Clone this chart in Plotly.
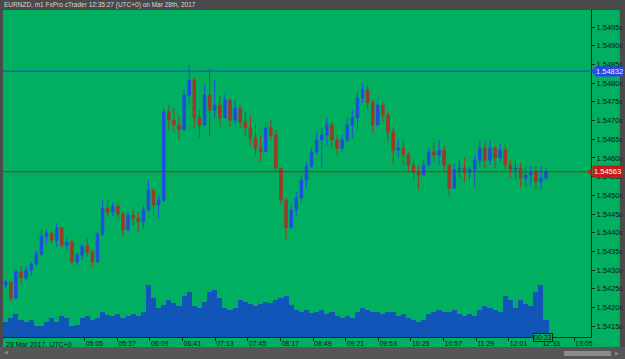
import pandas as pd
import plotly.graph_objects as go

# ---------------- data (5-minute aggregation) ----------------
bar_times = pd.date_range("2017-03-28 03:45", periods=107, freq="5min")

opens = [1.54260, 1.54268, 1.54225, 1.54295, 1.54279, 1.54300, 1.54316, 1.54343, 1.54391, 1.54399,
         1.54380, 1.54413, 1.54367, 1.54375, 1.54322, 1.54340, 1.54364, 1.54348, 1.54322, 1.54396,
         1.54466, 1.54455, 1.54471, 1.54450, 1.54407, 1.54447, 1.54439, 1.54429, 1.54461, 1.54514,
         1.54474, 1.54487, 1.54723, 1.54701, 1.54688, 1.54675, 1.54768, 1.54808, 1.54707, 1.54688,
         1.54768, 1.54728, 1.54741, 1.54707, 1.54755, 1.54701, 1.54733, 1.54696, 1.54680, 1.54653,
         1.54626, 1.54616, 1.54680, 1.54661, 1.54573, 1.54487, 1.54413, 1.54461, 1.54493, 1.54541,
         1.54578, 1.54616, 1.54648, 1.54661, 1.54688, 1.54648, 1.54626, 1.54648, 1.54688, 1.54707,
         1.54760, 1.54782, 1.54749, 1.54688, 1.54741, 1.54715, 1.54669, 1.54621, 1.54626, 1.54608,
         1.54581, 1.54562, 1.54554, 1.54581, 1.54616, 1.54608, 1.54621, 1.54581, 1.54519, 1.54568,
         1.54573, 1.54562, 1.54568, 1.54594, 1.54626, 1.54594, 1.54626, 1.54600, 1.54621, 1.54581,
         1.54568, 1.54573, 1.54546, 1.54554, 1.54562, 1.54536, 1.54546]
highs = [1.54273, 1.54268, 1.54300, 1.54311, 1.54311, 1.54322, 1.54354, 1.54407, 1.54410, 1.54402,
         1.54426, 1.54415, 1.54386, 1.54380, 1.54348, 1.54370, 1.54386, 1.54354, 1.54402, 1.54487,
         1.54487, 1.54482, 1.54479, 1.54455, 1.54458, 1.54463, 1.54458, 1.54474, 1.54541, 1.54514,
         1.54501, 1.54733, 1.54741, 1.54733, 1.54715, 1.54782, 1.54848, 1.54814, 1.54728, 1.54795,
         1.54840, 1.54808, 1.54768, 1.54774, 1.54755, 1.54755, 1.54741, 1.54723, 1.54715, 1.54688,
         1.54661, 1.54696, 1.54701, 1.54675, 1.54573, 1.54493, 1.54474, 1.54509, 1.54554, 1.54589,
         1.54626, 1.54669, 1.54680, 1.54709, 1.54696, 1.54661, 1.54661, 1.54707, 1.54728, 1.54776,
         1.54798, 1.54792, 1.54755, 1.54760, 1.54749, 1.54723, 1.54680, 1.54648, 1.54648, 1.54616,
         1.54594, 1.54581, 1.54594, 1.54626, 1.54642, 1.54648, 1.54634, 1.54581, 1.54586, 1.54594,
         1.54600, 1.54578, 1.54608, 1.54648, 1.54642, 1.54648, 1.54632, 1.54637, 1.54637, 1.54594,
         1.54594, 1.54586, 1.54581, 1.54581, 1.54578, 1.54578, 1.54573]
lows = [1.54252, 1.54215, 1.54225, 1.54260, 1.54273, 1.54284, 1.54311, 1.54338, 1.54372, 1.54372,
        1.54362, 1.54356, 1.54354, 1.54314, 1.54314, 1.54327, 1.54335, 1.54308, 1.54322, 1.54391,
        1.54445, 1.54445, 1.54439, 1.54388, 1.54407, 1.54418, 1.54402, 1.54413, 1.54455, 1.54447,
        1.54439, 1.54482, 1.54675, 1.54669, 1.54648, 1.54675, 1.54741, 1.54680, 1.54653, 1.54688,
        1.54656, 1.54707, 1.54683, 1.54707, 1.54683, 1.54688, 1.54680, 1.54659, 1.54632, 1.54608,
        1.54589, 1.54616, 1.54648, 1.54562, 1.54474, 1.54380, 1.54413, 1.54445, 1.54482, 1.54519,
        1.54573, 1.54608, 1.54573, 1.54634, 1.54626, 1.54608, 1.54616, 1.54642, 1.54653, 1.54675,
        1.54747, 1.54728, 1.54667, 1.54688, 1.54696, 1.54642, 1.54581, 1.54600, 1.54581, 1.54562,
        1.54541, 1.54514, 1.54554, 1.54578, 1.54589, 1.54581, 1.54562, 1.54498, 1.54519, 1.54546,
        1.54536, 1.54541, 1.54525, 1.54578, 1.54573, 1.54581, 1.54573, 1.54589, 1.54568, 1.54546,
        1.54541, 1.54522, 1.54522, 1.54528, 1.54514, 1.54514, 1.54541]
closes = [1.54268, 1.54225, 1.54295, 1.54279, 1.54300, 1.54316, 1.54343, 1.54391, 1.54399, 1.54380,
          1.54413, 1.54367, 1.54375, 1.54322, 1.54340, 1.54364, 1.54348, 1.54322, 1.54396, 1.54466,
          1.54455, 1.54471, 1.54450, 1.54407, 1.54447, 1.54439, 1.54429, 1.54461, 1.54514, 1.54474,
          1.54487, 1.54723, 1.54701, 1.54688, 1.54675, 1.54768, 1.54808, 1.54707, 1.54688, 1.54768,
          1.54728, 1.54741, 1.54707, 1.54755, 1.54701, 1.54733, 1.54696, 1.54680, 1.54653, 1.54626,
          1.54616, 1.54680, 1.54661, 1.54573, 1.54487, 1.54413, 1.54461, 1.54493, 1.54541, 1.54578,
          1.54616, 1.54648, 1.54661, 1.54688, 1.54648, 1.54626, 1.54648, 1.54688, 1.54707, 1.54760,
          1.54782, 1.54749, 1.54688, 1.54741, 1.54715, 1.54669, 1.54621, 1.54626, 1.54608, 1.54581,
          1.54562, 1.54554, 1.54581, 1.54616, 1.54608, 1.54621, 1.54581, 1.54519, 1.54568, 1.54573,
          1.54562, 1.54568, 1.54594, 1.54626, 1.54594, 1.54626, 1.54600, 1.54621, 1.54581, 1.54568,
          1.54573, 1.54546, 1.54554, 1.54562, 1.54536, 1.54546, 1.54563]
tick_volume = [15, 19, 23, 17, 15, 17, 11, 11, 15, 19,
               15, 21, 19, 11, 12, 19, 21, 17, 19, 25,
               22, 21, 23, 19, 21, 23, 21, 25, 52, 39,
               29, 32, 37, 34, 31, 41, 45, 31, 29, 35,
               45, 47, 39, 29, 27, 29, 37, 35, 33, 31,
               33, 35, 34, 37, 39, 41, 32, 27, 25, 27,
               24, 25, 27, 23, 25, 21, 19, 21, 19, 25,
               29, 27, 25, 25, 23, 25, 25, 21, 23, 19,
               17, 15, 17, 23, 25, 27, 25, 25, 27, 23,
               21, 23, 21, 27, 31, 29, 27, 25, 41, 37,
               29, 37, 33, 31, 45, 52, 17]

blue_level = 1.54832
last_price = closes[-1]

price_ticks = [1.5415, 1.5420, 1.5425, 1.5430, 1.5435, 1.5440, 1.5445, 1.5450, 1.5455,
               1.5460, 1.5465, 1.5470, 1.5475, 1.5480, 1.5485, 1.5490, 1.5495]
time_tick_labels = ["05:05", "05:37", "06:09", "06:41", "07:13", "07:45", "08:17", "08:49",
                    "09:21", "09:53", "10:25", "10:57", "11:29", "12:01", "12:33", "13:05"]
title_text = "EURNZD, m1 FxPro cTrader 12:35:27 (UTC+0) on Mar 28th, 2017"
date_text = "28 Mar 2017, UTC+0"
countdown_text = "00:33"

# ---------------- styling ----------------
GREEN = "#00b060"
DARK = "#0c2a18"
UP = "#1f4fe0"
DOWN = "#9c3b28"
VOL = "#1155b8"
GRAY = "#4a4a4a"
FONT = "Liberation Sans"

x_mid = bar_times + pd.Timedelta(minutes=2.5)
tick_vals = [pd.Timestamp("2017-03-28 " + t) for t in time_tick_labels]

fig = go.Figure()
fig.add_trace(go.Bar(x=x_mid, y=tick_volume, yaxis="y2", marker=dict(color=VOL, line=dict(width=0)),
                     width=5 * 60 * 1000, showlegend=False, hoverinfo="skip"))
fig.add_trace(go.Candlestick(x=x_mid, open=opens, high=highs, low=lows, close=closes,
                             increasing=dict(line=dict(color=UP, width=1), fillcolor=UP),
                             decreasing=dict(line=dict(color=DOWN, width=1), fillcolor=DOWN),
                             whiskerwidth=0, showlegend=False, hoverinfo="skip"))

fig.update_layout(
    width=625, height=359,
    margin=dict(l=3, r=32, t=10, b=22),
    paper_bgcolor=GRAY, plot_bgcolor=GREEN,
    bargap=0,
    font=dict(family=FONT, color="#111111", size=7),
    xaxis=dict(type="date", range=["2017-03-28 03:44:50", "2017-03-28 13:21:36"],
               tickvals=tick_vals, ticktext=time_tick_labels, ticks="outside", ticklen=3,
               tickcolor=DARK, showline=True, linecolor=DARK, linewidth=1, showgrid=False,
               zeroline=False, rangeslider=dict(visible=False), ticklabelposition="outside right",
               tickfont=dict(size=7, color="#111111", family=FONT), fixedrange=True),
    yaxis=dict(side="right", range=[1.541211, 1.549955], tickvals=price_ticks,
               ticktext=[f"{v:.4f}<span style='font-size:5px'>0</span>" for v in price_ticks],
               ticks="outside", ticklen=3, tickcolor=DARK, showline=True, linecolor=DARK,
               linewidth=1, showgrid=False, zeroline=False,
               tickfont=dict(size=7.5, color="#111111", family=FONT)),
    yaxis2=dict(overlaying="y", range=[0, 327], visible=False),
)

shapes = [
    # green chart panel (incl. axis areas)
    dict(type="rect", xref="paper", yref="paper", x0=0, x1=1.049, y0=-0.0306, y1=1,
         fillcolor=GREEN, line=dict(width=0), layer="below"),
    # bottom scrollbar band
    dict(type="rect", xref="paper", yref="paper", x0=-0.006, x1=1.06, y0=-0.0673, y1=-0.0306,
         fillcolor="#565656", line=dict(width=0), layer="below"),
    # scrollbar thumb
    dict(type="rect", xref="paper", yref="paper", x0=0.954, x1=1.034, y0=-0.0581, y1=-0.0428,
         fillcolor="#8c8c8c", line=dict(width=0), layer="above"),
    # price lines
    dict(type="line", xref="paper", yref="y", x0=0, x1=1, y0=blue_level, y1=blue_level,
         line=dict(color="#2240d8", width=1)),
    dict(type="line", xref="paper", yref="y", x0=0, x1=1, y0=last_price, y1=last_price,
         line=dict(color="#9b2a1c", width=1)),
    # label arrow tips
    dict(type="path", xref="paper", yref="y",
         path=f"M 1.0 {blue_level} L 1.0075 {blue_level + 0.00011} L 1.0075 {blue_level - 0.00011} Z",
         fillcolor="#2a46e6", line=dict(width=0)),
    dict(type="path", xref="paper", yref="y",
         path=f"M 0.9935 {last_price} L 1.0015 {last_price + 0.00011} L 1.0015 {last_price - 0.00011} Z",
         fillcolor="#c41a1a", line=dict(width=0)),
]
fig.update_layout(shapes=shapes)

annotations = [
    dict(text=title_text, xref="paper", yref="paper", x=-0.002, y=1.0155, xanchor="left",
         yanchor="middle", showarrow=False, font=dict(size=6.5, color="#d6d6d6", family=FONT)),
    dict(text=date_text, xref="paper", yref="paper", x=0.0015, y=-0.0215, xanchor="left",
         yanchor="middle", showarrow=False, font=dict(size=7, color="#111111", family=FONT)),
    dict(text=f"{blue_level:.5f}", xref="paper", yref="y", x=1.0075, y=blue_level, xanchor="left",
         yanchor="middle", showarrow=False, bgcolor="#2a46e6", borderpad=0,
         font=dict(size=7.5, color="#e8eeff", family=FONT)),
    dict(text=f"{last_price:.5f}", xref="paper", yref="y", x=1.0015, y=last_price, xanchor="left",
         yanchor="middle", showarrow=False, bgcolor="#c41a1a", borderpad=1,
         font=dict(size=7.5, color="#ffffff", family=FONT)),
    dict(text=countdown_text, xref="x", yref="paper", x=bar_times[-1], y=0.0, xanchor="center",
         yanchor="middle", showarrow=False, bgcolor=GREEN, bordercolor=DARK, borderwidth=1,
         borderpad=0, font=dict(size=7, color="#111111", family=FONT)),
    dict(text="◀", xref="paper", yref="paper", x=0.005, y=-0.046, xanchor="center", yanchor="middle",
         showarrow=False, font=dict(size=5, color="#8a8a8a")),
    dict(text="▶", xref="paper", yref="paper", x=1.045, y=-0.05, xanchor="center", yanchor="middle",
         showarrow=False, font=dict(size=5, color="#8a8a8a")),
]
fig.update_layout(annotations=annotations)

fig.write_html("out.html")
